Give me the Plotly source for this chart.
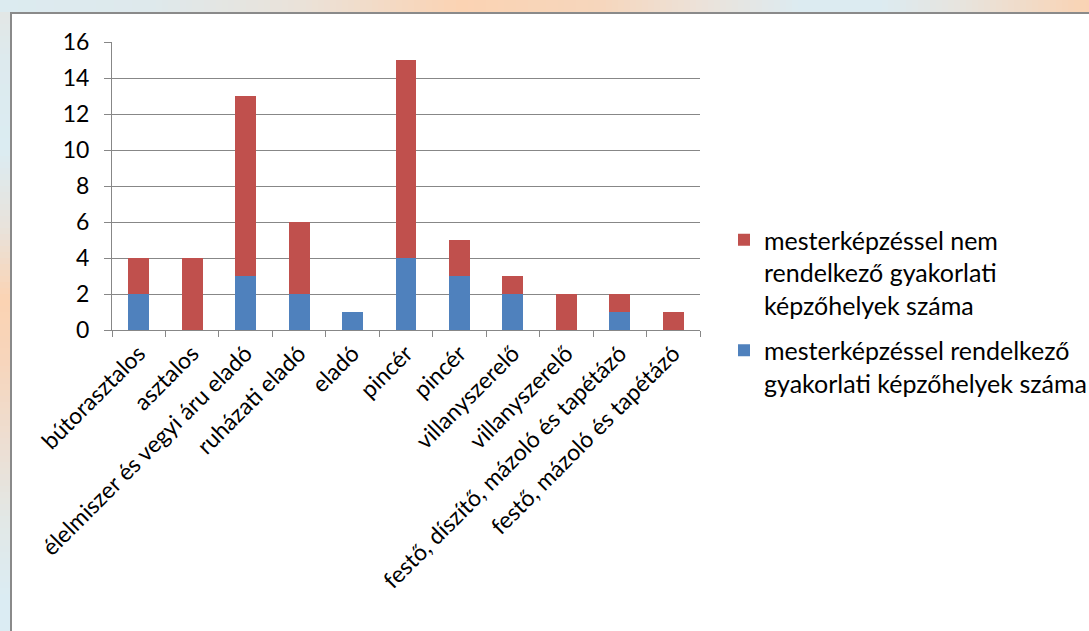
import plotly.graph_objects as go

# --- data -------------------------------------------------------------
categories = [
    "bútorasztalos",
    "asztalos",
    "élelmiszer és vegyi áru eladó",
    "ruházati eladó",
    "eladó",
    "pincér",
    "pincér",
    "villanyszerelő",
    "villanyszerelő",
    "festő, díszítő, mázoló és tapétázó",
    "festő, mázoló és tapétázó",
]
with_master = [2, 0, 3, 2, 1, 4, 3, 2, 0, 1, 0]
without_master = [2, 4, 10, 4, 0, 11, 2, 1, 2, 1, 1]
series_names = [
    "mesterképzéssel rendelkező<br>gyakorlati képzőhelyek száma",
    "mesterképzéssel nem<br>rendelkező gyakorlati<br>képzőhelyek száma",
]
y_ticks = [0, 2, 4, 6, 8, 10, 12, 14, 16]

# --- page geometry (pixels) -------------------------------------------
W, H = 1089, 631
ML, MR, MT, MB = 112, 389, 42, 301
PW, PH = W - ML - MR, H - MT - MB

BLUE = "#4F81BD"
RED = "#C0504D"
GRID = "#878787"
FONT = "Lato"


def px_x(px):
    return (px - ML) / PW


def px_y(py):
    return 1 - (py - MT) / PH


def hex_to_rgb(h):
    h = h.lstrip("#")
    return tuple(int(h[i:i + 2], 16) for i in (0, 2, 4))


def lerp_color(stops, pos):
    for (p0, c0), (p1, c1) in zip(stops, stops[1:]):
        if p0 <= pos <= p1:
            t = 0 if p1 == p0 else (pos - p0) / (p1 - p0)
            a, b = hex_to_rgb(c0), hex_to_rgb(c1)
            r = [round(a[i] + (b[i] - a[i]) * t) for i in range(3)]
            return "rgb(%d,%d,%d)" % tuple(r)
    return stops[-1][1]


# decorative gradient frame around the white chart panel
top_stops = [(0, "#dcebf0"), (150, "#dee9ec"), (300, "#eae2d9"), (460, "#fbd3b3"),
             (600, "#f6d6bc"), (700, "#ece2d9"), (800, "#dcebf1"), (880, "#dcebf1"),
             (960, "#e7e4de"), (1089, "#fad3b3")]
left_stops = [(0, "#e4e6e3"), (60, "#ddeaee"), (150, "#dbecf2"), (230, "#e9e2da"),
              (300, "#fbd3b3"), (360, "#f7d5bb"), (450, "#ecdfd4"), (520, "#e2e8e6"),
              (600, "#dbecf3"), (631, "#dbecf3")]

FRAME_X, FRAME_Y = 10, 12
shapes = []
step = 6
for x0 in range(0, W, step):
    x1 = min(x0 + step, W)
    shapes.append(dict(type="rect", xref="paper", yref="paper", layer="below",
                       x0=px_x(x0), x1=px_x(x1), y0=px_y(FRAME_Y), y1=px_y(0),
                       fillcolor=lerp_color(top_stops, (x0 + x1) / 2),
                       line=dict(width=0)))
for y0 in range(FRAME_Y, H, step):
    y1 = min(y0 + step, H)
    shapes.append(dict(type="rect", xref="paper", yref="paper", layer="below",
                       x0=px_x(0), x1=px_x(FRAME_X), y0=px_y(y1), y1=px_y(y0),
                       fillcolor=lerp_color(left_stops, (y0 + y1) / 2),
                       line=dict(width=0)))
# panel border (top and left edges)
shapes.append(dict(type="line", xref="paper", yref="paper", layer="below",
                   x0=px_x(FRAME_X), x1=px_x(W + 2), y0=px_y(FRAME_Y + 1), y1=px_y(FRAME_Y + 1),
                   line=dict(color="#8a8a8a", width=2)))
shapes.append(dict(type="line", xref="paper", yref="paper", layer="below",
                   x0=px_x(FRAME_X + 1), x1=px_x(FRAME_X + 1), y0=px_y(FRAME_Y), y1=px_y(H + 2),
                   line=dict(color="#8a8a8a", width=2)))

# --- traces -----------------------------------------------------------
xpos = list(range(len(categories)))
fig = go.Figure()
fig.add_trace(go.Bar(x=xpos, y=with_master, name=series_names[0],
                     marker=dict(color=BLUE, line=dict(width=0)),
                     legendgroup="with", legendrank=2))
fig.add_trace(go.Bar(x=xpos, y=without_master, name=series_names[1],
                     marker=dict(color=RED, line=dict(width=0)),
                     legendgroup="without", legendrank=1))

fig.update_layout(
    width=W, height=H,
    margin=dict(l=ML, r=MR, t=MT, b=MB, pad=0, autoexpand=False),
    paper_bgcolor="white", plot_bgcolor="white",
    barmode="stack", bargap=0.61,
    font=dict(family=FONT, size=23, color="black"),
    shapes=shapes,
    showlegend=True,
    legend=dict(
        x=px_x(724), y=px_y(217), xanchor="left", yanchor="top",
        traceorder="grouped", tracegroupgap=10, valign="top",
        font=dict(family=FONT, size=25, color="black"),
        bgcolor="rgba(0,0,0,0)",
    ),
)
fig.update_xaxes(
    range=[-0.5, len(categories) - 0.5],
    tickmode="array", tickvals=xpos, ticktext=categories,
    tickangle=-45, ticks="",
    showgrid=False, zeroline=False,
    showline=True, linecolor=GRID, linewidth=1,
    minor=dict(tick0=-0.5, dtick=1, ticks="outside", ticklen=6,
               tickcolor=GRID, tickwidth=1, showgrid=False),
    tickfont=dict(family=FONT, size=23, color="black"),
    fixedrange=True,
)
fig.update_yaxes(
    range=[0, 16], tickmode="array", tickvals=y_ticks,
    ticks="outside", ticklen=7, tickcolor=GRID, tickwidth=1,
    ticklabelstandoff=10,
    showgrid=True, gridcolor=GRID, gridwidth=1,
    zeroline=False,
    showline=True, linecolor=GRID, linewidth=1,
    tickfont=dict(family=FONT, size=23, color="black"),
    fixedrange=True,
)

fig.write_html("out.html", config={"displayModeBar": False})
